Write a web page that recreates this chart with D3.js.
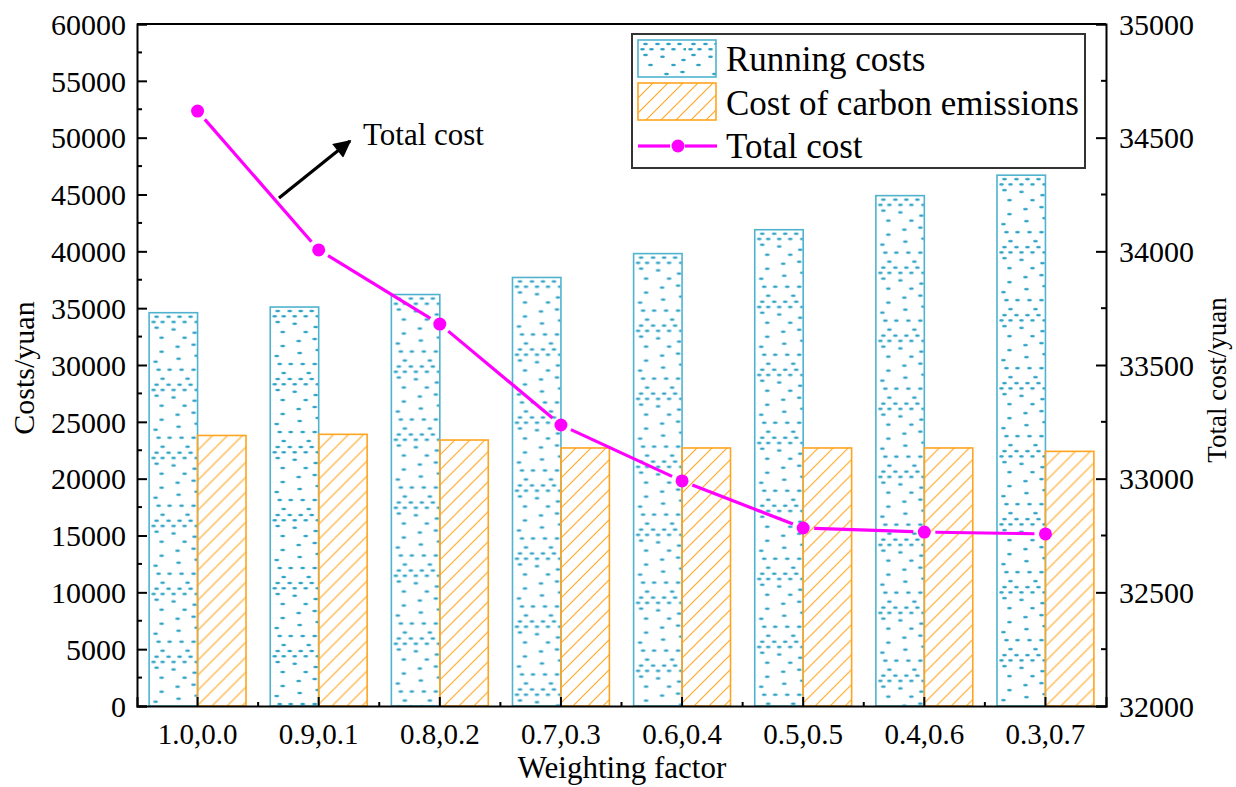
<!DOCTYPE html>
<html>
<head>
<meta charset="utf-8">
<script src="https://cdn.jsdelivr.net/npm/d3@7"></script>
<style>
  html, body { margin: 0; padding: 0; background: #fff; }
  svg { display: block; font-family: "Liberation Serif", "Times New Roman", serif; }
</style>
</head>
<body>
<svg id="chart" width="1236" height="787"></svg>
<script>
// Weighting factor combinations along the x axis
const categories = ["1.0,0.0", "0.9,0.1", "0.8,0.2", "0.7,0.3", "0.6,0.4", "0.5,0.5", "0.4,0.6", "0.3,0.7"];
// Left axis series (yuan)
const runningCosts = [34600, 35100, 36200, 37700, 39800, 41900, 44900, 46700];
const carbonCosts = [23800, 23900, 23400, 22700, 22700, 22700, 22700, 22400];
// Right axis series (yuan)
const totalCost = [34617, 34006, 33680, 33236, 32990, 32783, 32765, 32757];
// Tick labels
const leftTicks = [0, 5000, 10000, 15000, 20000, 25000, 30000, 35000, 40000, 45000, 50000, 55000, 60000];
const rightTicks = [32000, 32500, 33000, 33500, 34000, 34500, 35000];
const seriesNames = ["Running costs", "Cost of carbon emissions", "Total cost"];

const svg = d3.select("#chart");
const M = { left: 137, right: 1106, top: 24, bottom: 706 };

const x = d3.scaleBand().domain(categories).range([M.left, M.right]).paddingInner(0.2).paddingOuter(0.1);
const yL = d3.scaleLinear().domain([0, 60000]).range([M.bottom, M.top]);
const yR = d3.scaleLinear().domain([32000, 35000]).range([M.bottom, M.top]);

const blueEdge = "#4fb3cf";
const blueDot = "#2fa2c6";
const orange = "#ffa41f";
const magenta = "#ff00ff";

const defs = svg.append("defs");

// Scattered-dash fill for running costs (one tile of 48 x 68)
const dashSpots = [
  [5,0],[17,0],[28,0],[39,0],
  [2,5.3],[11,5.3],[22,5.3],[33,5.3],[45,5.3],
  [5,11],[22,12.7],[43,16],
  [10,21],[33,21],
  [26,30],[42,28],
  [10,35],
  [27,42],[45,39],
  [4,45],
  [7,53],[18,53],[30,53],[42,53],
  [11,62],[36,62]
];
function dashPattern(id, px, py) {
  const p = defs.append("pattern").attr("id", id)
    .attr("patternUnits", "userSpaceOnUse")
    .attr("x", px).attr("y", py).attr("width", 48).attr("height", 68);
  p.selectAll("ellipse").data(dashSpots).join("ellipse")
    .attr("cx", d => d[0] + 2.5).attr("cy", d => d[1] + 2)
    .attr("rx", 2.4).attr("ry", 1.2).attr("fill", blueDot);
}
// Diagonal hatch for carbon emission costs
function hatchPattern(id, px, py) {
  const p = defs.append("pattern").attr("id", id)
    .attr("patternUnits", "userSpaceOnUse")
    .attr("x", px).attr("y", py).attr("width", 15).attr("height", 15);
  p.append("path").attr("d", "M0,15 L15,0 M-4,4 L4,-4 M11,19 L19,11")
    .attr("stroke", orange).attr("stroke-width", 1.1).attr("fill", "none");
}

const bw = x.bandwidth() / 2;

// Bars
const groups = svg.append("g").selectAll("g").data(categories).join("g");
groups.each(function (c, i) {
  const g = d3.select(this);
  const x0 = x(c);
  dashPattern("run" + i, x0, yL(runningCosts[i]) + 2);
  hatchPattern("car" + i, x0 + bw, yL(carbonCosts[i]));
  g.append("rect")
    .attr("x", x0).attr("y", yL(runningCosts[i]))
    .attr("width", bw).attr("height", yL(0) - yL(runningCosts[i]))
    .attr("fill", "url(#run" + i + ")").attr("stroke", blueEdge).attr("stroke-width", 1.6);
  g.append("rect")
    .attr("x", x0 + bw).attr("y", yL(carbonCosts[i]))
    .attr("width", bw).attr("height", yL(0) - yL(carbonCosts[i]))
    .attr("fill", "url(#car" + i + ")").attr("stroke", orange).attr("stroke-width", 1.6);
});

// Total cost line: segments stop short of each marker
const cx = c => x(c) + x.bandwidth() / 2;
const pts = categories.map((c, i) => [cx(c), yR(totalCost[i])]);
const gap = 11;
const lineG = svg.append("g");
for (let i = 0; i < pts.length - 1; i++) {
  const [x1, y1] = pts[i], [x2, y2] = pts[i + 1];
  const L = Math.hypot(x2 - x1, y2 - y1);
  const ux = (x2 - x1) / L, uy = (y2 - y1) / L;
  lineG.append("line")
    .attr("x1", x1 + ux * gap).attr("y1", y1 + uy * gap)
    .attr("x2", x2 - ux * gap).attr("y2", y2 - uy * gap)
    .attr("stroke", magenta).attr("stroke-width", 3.2);
}
lineG.selectAll("circle").data(pts).join("circle")
  .attr("cx", d => d[0]).attr("cy", d => d[1]).attr("r", 6.5).attr("fill", magenta);

// Axes
const axisG = svg.append("g");
const tickFont = 30;

// left axis
const left = axisG.append("g").attr("transform", `translate(${M.left},0)`)
  .call(d3.axisLeft(yL).tickValues(leftTicks).tickSize(-10).tickPadding(11).tickFormat(d3.format("d")));
left.selectAll(".tick line").attr("stroke", "#000").attr("stroke-width", 2);
// minor ticks
left.selectAll(".minor").data(leftTicks.slice(0, -1).map(v => v + 2500)).join("line")
  .attr("x1", 0).attr("x2", 5).attr("y1", d => yL(d)).attr("y2", d => yL(d))
  .attr("stroke", "#000").attr("stroke-width", 2);

// right axis
const right = axisG.append("g").attr("transform", `translate(${M.right},0)`)
  .call(d3.axisRight(yR).tickValues(rightTicks).tickSize(-10).tickPadding(13).tickFormat(d3.format("d")));
right.selectAll(".tick line").attr("stroke", "#000").attr("stroke-width", 2);
right.selectAll(".minor").data(rightTicks.slice(0, -1).map(v => v + 250)).join("line")
  .attr("x1", 0).attr("x2", -5).attr("y1", d => yR(d)).attr("y2", d => yR(d))
  .attr("stroke", "#000").attr("stroke-width", 2);

// bottom axis
const bottom = axisG.append("g").attr("transform", `translate(0,${M.bottom})`)
  .call(d3.axisBottom(x).tickSize(-9).tickPadding(17));
bottom.selectAll(".tick line").attr("stroke", "#000").attr("stroke-width", 2);
const step = x.step();
bottom.selectAll(".minor").data(categories.slice(1)).join("line")
  .attr("x1", d => x(d) - step * x.paddingInner() / 2).attr("x2", d => x(d) - step * x.paddingInner() / 2)
  .attr("y1", 0).attr("y2", -4)
  .attr("stroke", "#000").attr("stroke-width", 2);

axisG.selectAll(".domain").attr("stroke", "#000").attr("stroke-width", 2);
axisG.selectAll(".tick text").attr("fill", "#000")
  .style("font-family", "'Liberation Serif', serif");
left.selectAll(".tick text").style("font-size", tickFont + "px").attr("dy", "0.34em");
right.selectAll(".tick text").style("font-size", tickFont + "px").attr("dy", "0.34em");
bottom.selectAll(".tick text").style("font-size", "29px").attr("dy", "0.71em");

// top frame
axisG.append("line").attr("x1", M.left).attr("x2", M.right).attr("y1", M.top).attr("y2", M.top)
  .attr("stroke", "#000").attr("stroke-width", 2);

// Axis titles
svg.append("text").attr("transform", `translate(34,${(M.top + M.bottom) / 2 + 3}) rotate(-90)`)
  .attr("text-anchor", "middle").style("font-size", "30px").text("Costs/yuan");
svg.append("text").attr("transform", `translate(1226,${(M.top + M.bottom) / 2 + 15}) rotate(-90)`)
  .attr("text-anchor", "middle").style("font-size", "27px").text("Total cost/yuan");
svg.append("text").attr("x", 622).attr("y", 778)
  .attr("text-anchor", "middle").style("font-size", "31px").text("Weighting factor");

// Annotation arrow
defs.append("marker").attr("id", "arrowHead").attr("viewBox", "0 0 10 10")
  .attr("refX", 9).attr("refY", 5).attr("markerWidth", 6.5).attr("markerHeight", 5.5)
  .attr("markerUnits", "strokeWidth").attr("orient", "auto")
  .append("path").attr("d", "M0,0 L10,5 L0,10 Z").attr("fill", "#000");
svg.append("line").attr("x1", 279).attr("y1", 198).attr("x2", 350).attr("y2", 141)
  .attr("stroke", "#000").attr("stroke-width", 3.2).attr("marker-end", "url(#arrowHead)");
svg.append("text").attr("x", 363).attr("y", 145).style("font-size", "31px").text(seriesNames[2]);

// Legend
const lg = svg.append("g");
lg.append("rect").attr("x", 632).attr("y", 34).attr("width", 453).attr("height", 134)
  .attr("fill", "#fff").attr("stroke", "#333").attr("stroke-width", 2);
dashPattern("runLegend", 638, 42);
hatchPattern("carLegend", 638, 83);
lg.append("rect").attr("x", 638).attr("y", 40).attr("width", 78).attr("height", 37)
  .attr("fill", "url(#runLegend)").attr("stroke", blueEdge).attr("stroke-width", 1.6);
lg.append("rect").attr("x", 638).attr("y", 83).attr("width", 78).attr("height", 37)
  .attr("fill", "url(#carLegend)").attr("stroke", orange).attr("stroke-width", 1.6);
lg.append("line").attr("x1", 638).attr("x2", 670).attr("y1", 146).attr("y2", 146)
  .attr("stroke", magenta).attr("stroke-width", 3.2);
lg.append("line").attr("x1", 685).attr("x2", 717).attr("y1", 146).attr("y2", 146)
  .attr("stroke", magenta).attr("stroke-width", 3.2);
lg.append("circle").attr("cx", 678).attr("cy", 146).attr("r", 6.5).attr("fill", magenta);
lg.selectAll("text").data(seriesNames).join("text")
  .attr("x", 726).attr("y", (d, i) => 71 + i * 43.5)
  .style("font-size", "35px").text(d => d);
</script>
</body>
</html>
